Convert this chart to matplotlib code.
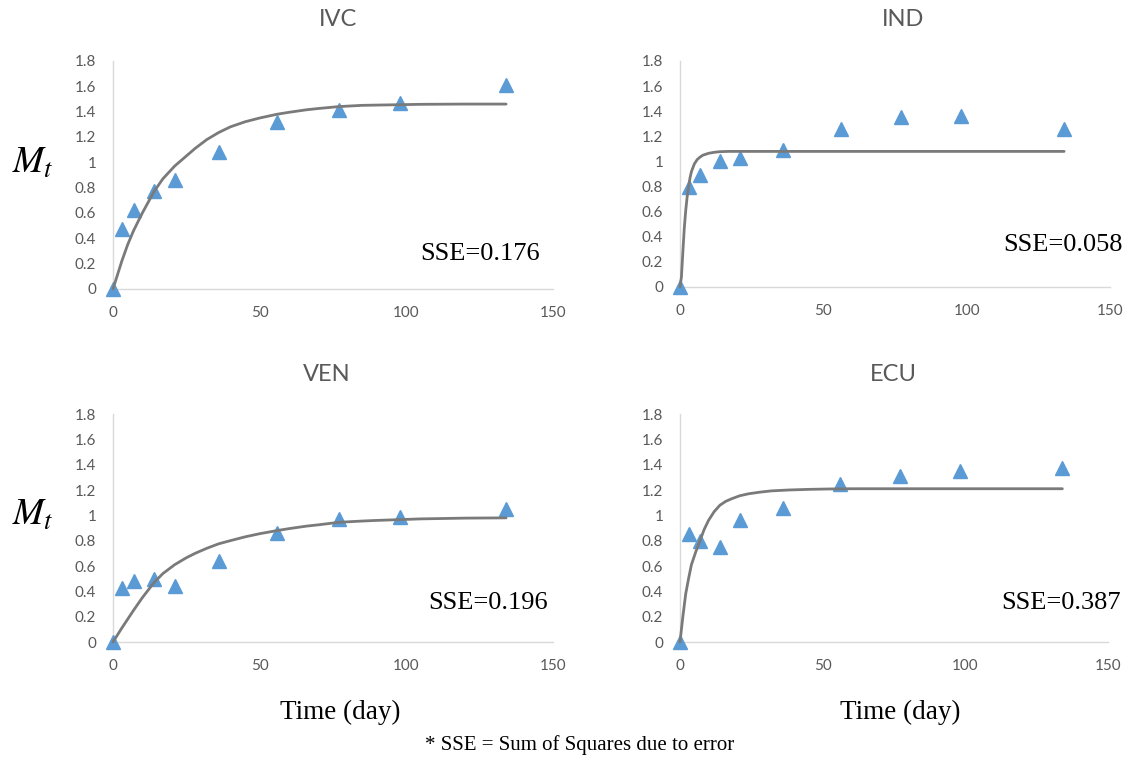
import matplotlib
matplotlib.use("Agg")
import matplotlib.pyplot as plt

# ---------------- data ----------------
days = [0, 3, 7, 14, 21, 36, 56, 77, 98, 134]

ivc_obs = [0, 0.47, 0.62, 0.77, 0.86, 1.08, 1.32, 1.41, 1.47, 1.61]
ind_obs = [0, 0.80, 0.89, 1.00, 1.03, 1.09, 1.26, 1.35, 1.36, 1.26]
ven_obs = [0, 0.43, 0.48, 0.50, 0.44, 0.64, 0.86, 0.97, 0.99, 1.05]
ecu_obs = [0, 0.85, 0.80, 0.75, 0.96, 1.06, 1.25, 1.31, 1.35, 1.37]

ivc_fit_days = [0, 1.5, 3, 5, 7, 10, 14, 17, 21, 25, 28, 32, 36, 40, 45, 50, 56, 60,
                66, 70, 77, 85, 90, 105, 120, 134]
ivc_fit_vals = [0, 0.11, 0.22, 0.35, 0.46, 0.60, 0.77, 0.87, 0.97, 1.05, 1.11, 1.18,
                1.235, 1.28, 1.32, 1.35, 1.38, 1.395, 1.415, 1.425, 1.44, 1.45, 1.452,
                1.458, 1.46, 1.46]

ind_fit_days = [0, 0.5, 1, 1.5, 2, 2.5, 3, 3.5, 4, 5, 6, 7, 8, 10, 12, 14, 17, 20, 36, 134]
ind_fit_vals = [0, 0.08, 0.28, 0.47, 0.61, 0.72, 0.80, 0.87, 0.92, 0.98, 1.015, 1.035,
                1.05, 1.065, 1.073, 1.078, 1.08, 1.08, 1.08, 1.08]

ven_fit_days = [0, 3, 5, 7, 10, 14, 17, 21, 25, 28, 32, 36, 40, 45, 50, 56, 60, 66,
                70, 77, 85, 90, 105, 120, 134]
ven_fit_vals = [0, 0.11, 0.18, 0.25, 0.35, 0.47, 0.54, 0.61, 0.665, 0.70, 0.74, 0.775,
                0.80, 0.83, 0.855, 0.88, 0.895, 0.915, 0.925, 0.945, 0.955, 0.96, 0.972,
                0.978, 0.98]

ecu_fit_days = [0, 1, 2, 3, 4, 5.5, 7, 8.5, 10, 12, 14, 16, 18, 21, 24, 28, 32, 38,
                45, 52, 60, 134]
ecu_fit_vals = [0, 0.20, 0.38, 0.50, 0.61, 0.71, 0.80, 0.89, 0.96, 1.03, 1.08, 1.11,
                1.13, 1.155, 1.17, 1.183, 1.193, 1.20, 1.205, 1.208, 1.21, 1.21]

titles = ["IVC", "IND", "VEN", "ECU"]
sse_labels = ["SSE=0.176", "SSE=0.058", "SSE=0.196", "SSE=0.387"]
y_ticks = [0, 0.2, 0.4, 0.6, 0.8, 1, 1.2, 1.4, 1.6, 1.8]
y_tick_labels = ["0", "0.2", "0.4", "0.6", "0.8", "1", "1.2", "1.4", "1.6", "1.8"]
x_ticks = [0, 50, 100, 150]

# ---------------- layout ----------------
W, H = 1145, 763
plt.rcParams["mathtext.fontset"] = "stix"
fig = plt.figure(figsize=(W / 100, H / 100), dpi=100)

def px_axes(x0, x1, y_top, y_bot):
    return [x0 / W, 1 - y_bot / H, (x1 - x0) / W, (y_bot - y_top) / H]

boxes = [
    px_axes(113, 553, 61, 289),
    px_axes(680, 1110, 61, 287),
    px_axes(113, 553, 414, 642),
    px_axes(680, 1108, 414, 642),
]
title_pos = [(338, 20), (903, 20), (327, 374), (893, 374)]
sse_pos = [(540, 254), (1123, 245), (548, 603), (1121, 603)]

obs_sets = [ivc_obs, ind_obs, ven_obs, ecu_obs]
fit_sets = [(ivc_fit_days, ivc_fit_vals), (ind_fit_days, ind_fit_vals),
            (ven_fit_days, ven_fit_vals), (ecu_fit_days, ecu_fit_vals)]

tick_color = "#595959"
spine_color = "#d9d9d9"
tri_color = "#5b9bd5"
line_color = "#7a7a7a"

for i in range(4):
    ax = fig.add_axes(boxes[i])
    ax.plot(days, obs_sets[i], linestyle="none", marker="^", markersize=9.5,
            color=tri_color, clip_on=False, zorder=3)
    fx, fy = fit_sets[i]
    ax.plot(fx, fy, color=line_color, linewidth=2.0, solid_joinstyle="round",
            solid_capstyle="round", zorder=4, clip_on=False)
    ax.set_xlim(0, 150)
    ax.set_ylim(0, 1.8)
    ax.set_xticks(x_ticks)
    ax.set_yticks(y_ticks)
    ax.set_yticklabels(y_tick_labels)
    ax.tick_params(length=0, colors=tick_color, labelsize=11)
    ax.tick_params(axis="y", pad=12)
    ax.tick_params(axis="x", pad=12)
    for lab in ax.get_xticklabels() + ax.get_yticklabels():
        lab.set_family("Lato")
    for s in ["top", "right"]:
        ax.spines[s].set_visible(False)
    for s in ["left", "bottom"]:
        ax.spines[s].set_color(spine_color)
        ax.spines[s].set_linewidth(1.0)
    ax.set_facecolor("none")

    tx, ty = title_pos[i]
    fig.text(tx / W, 1 - ty / H, titles[i], ha="center", va="center",
             fontsize=17, color=tick_color, family="Lato")
    sx, sy = sse_pos[i]
    fig.text(sx / W, 1 - sy / H, sse_labels[i], ha="right", va="center",
             fontsize=19, color="black", family="Liberation Serif")

# M_t labels
for yy in (163, 515):
    fig.text(33 / W, 1 - yy / H, r"$M_t$", ha="center", va="center",
             fontsize=27, color="black")

# x labels
for xx in (340, 900):
    fig.text(xx / W, 1 - 712 / H, "Time (day)", ha="center", va="center",
             fontsize=19.5, family="Liberation Serif", color="black")

fig.text(580 / W, 1 - 745 / H, "* SSE = Sum of Squares due to error",
         ha="center", va="center", fontsize=15, family="Liberation Serif",
         color="black")

fig.savefig("out.png", dpi=100, facecolor="white")
